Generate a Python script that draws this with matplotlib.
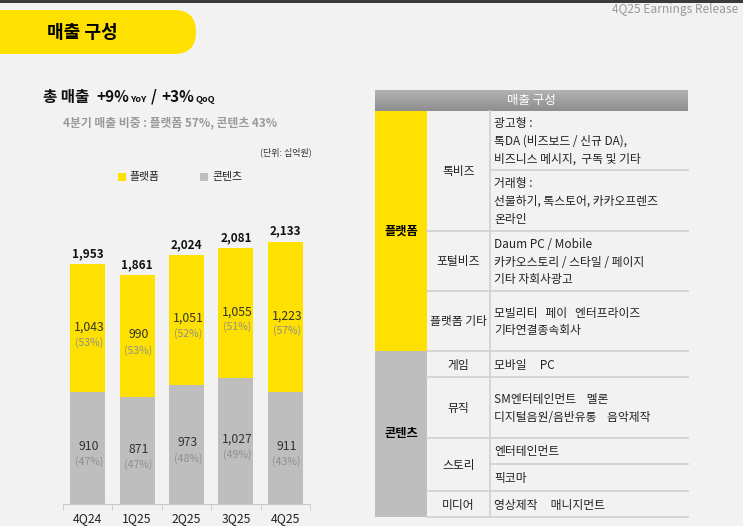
import numpy as np
import matplotlib.pyplot as plt
from matplotlib.patches import Rectangle, FancyBboxPatch
from matplotlib.colors import LinearSegmentedColormap

plt.rcParams['font.family'] = ['Noto Sans CJK KR', 'DejaVu Sans']

# chart data (unit: 십억원)
quarters = ['4Q24', '1Q25', '2Q25', '3Q25', '4Q25']
platform = [1043, 990, 1051, 1055, 1223]
content = [910, 871, 973, 1027, 911]
totals = [1953, 1861, 2024, 2081, 2133]
platform_pct = [53, 53, 52, 51, 57]
content_pct = [47, 47, 48, 49, 43]

# table text
platform_rows = ['톡비즈', '포털비즈', '플랫폼 기타']
content_rows = ['게임', '뮤직', '스토리', '미디어']
row_desc = [
    [['광고형 :', '톡DA (비즈보드 / 신규 DA),', '비즈니스 메시지,  구독 및 기타'],
     ['거래형 :', '선물하기, 톡스토어, 카카오프렌즈', '온라인']],
    [['Daum PC / Mobile', '카카오스토리 / 스타일 / 페이지', '기타 자회사광고']],
    [['모빌리티   페이   엔터프라이즈', '기타연결종속회사']],
    [['모바일     PC']],
    [['SM엔터테인먼트    멜론', '디지털음원/음반유통    음악제작']],
    [['엔터테인먼트'], ['픽코마']],
    [['영상제작     매니지먼트']],
]

YELLOW = '#FEE100'
GRAY = '#BEBEBE'
BG = '#F2F2F2'
LINE = '#D2D2D2'

W, H = 743, 526
fig = plt.figure(figsize=(W / 100, H / 100), dpi=100)
fig.patch.set_facecolor(BG)

# overlay in pixel coords
ov = fig.add_axes([0, 0, 1, 1])
ov.set_xlim(0, W)
ov.set_ylim(H, 0)
ov.axis('off')

ov.add_patch(Rectangle((0, 0), W, 3, color='#3a3a3a', lw=0))
ov.add_patch(FancyBboxPatch((-40, 10), 236, 44, boxstyle='round,pad=0,rounding_size=22',
                            fc=YELLOW, ec='none'))
ov.text(82, 32, '매출 구성', fontsize=13, fontweight='bold', ha='center', va='center')
ov.text(738, 10, '4Q25 Earnings Release', fontsize=8.6, color='#9a9a9a', ha='right', va='center')

# left headline
ov.text(43, 97, '총 매출', fontsize=11.2, fontweight='bold', va='center', color='#111')
ov.text(96, 97, '+9%', fontsize=11, fontweight='bold', va='center', color='#111')
ov.text(130, 99, 'YoY', fontsize=6.6, fontweight='bold', va='center', color='#111')
ov.text(151, 97, '/', fontsize=11, fontweight='bold', va='center', color='#111')
ov.text(161, 97, '+3%', fontsize=11, fontweight='bold', va='center', color='#111')
ov.text(196, 99, 'QoQ', fontsize=6.6, fontweight='bold', va='center', color='#111')
ov.text(63, 123, '4분기 매출 비중 : 플랫폼 57%, 콘텐츠 43%', fontsize=8.5, fontweight='bold',
        color='#9a9a9a', va='center')
ov.text(312, 152, '(단위: 십억원)', fontsize=6.5, color='#333', ha='right', va='center')

ov.add_patch(Rectangle((118, 173), 8, 8, color=YELLOW, lw=0))
ov.text(129, 177, '플랫폼', fontsize=7.8, va='center', color='#222')
ov.add_patch(Rectangle((200, 173), 8, 8, color=GRAY, lw=0))
ov.text(212, 177, '콘텐츠', fontsize=7.8, va='center', color='#222')

# right table
tx0, tx1 = 375, 688
c1, c2 = 427, 490
grad = np.linspace(0, 1, 50).reshape(-1, 1)
ov.imshow(grad, cmap=LinearSegmentedColormap.from_list('g', ['#b2b2b2', '#8e8e8e']),
          extent=(tx0, tx1, 111, 90), aspect='auto', zorder=1)
ov.text((tx0 + tx1) / 2, 100.5, '매출 구성', fontsize=9, color='white', ha='center', va='center', zorder=2)

row_bounds = [111, 231, 291, 351, 377, 438, 491, 517]
sub_splits = {0: [170], 5: [464]}

ov.add_patch(Rectangle((tx0, 111), c1 - tx0, 351 - 111, color=YELLOW, lw=0))
ov.add_patch(Rectangle((tx0, 351), c1 - tx0, 517 - 351, color=GRAY, lw=0))
ov.text((tx0 + c1) / 2, 231, '플랫폼', fontsize=8.8, fontweight='bold', ha='center', va='center')
ov.text((tx0 + c1) / 2, 434, '콘텐츠', fontsize=8.8, fontweight='bold', ha='center', va='center')

for yb in row_bounds[1:]:
    ov.plot([c1, tx1], [yb, yb], color=LINE, lw=1.3)
ov.plot([c2, c2], [111, 517], color=LINE, lw=1.3)

labels = platform_rows + content_rows
for i, lab in enumerate(labels):
    y0, y1 = row_bounds[i], row_bounds[i + 1]
    ov.text((c1 + c2) / 2, (y0 + y1) / 2 + 1, lab, fontsize=8.5, ha='center', va='center', color='#222')
    cuts = [y0] + sub_splits.get(i, []) + [y1]
    for s in sub_splits.get(i, []):
        ov.plot([c2, tx1], [s, s], color=LINE, lw=1.3)
    for k, lines in enumerate(row_desc[i]):
        yc = (cuts[k] + cuts[k + 1]) / 2 + 1
        n = len(lines)
        for j, t in enumerate(lines):
            ov.text(494, yc + (j - (n - 1) / 2) * 17.5, t, fontsize=8.5, va='center', color='#222')

# bar chart
ax = fig.add_axes([63 / W, (H - 504) / H, 247 / W, 284 / H])
ax.set_facecolor('none')
x = np.arange(len(quarters))
ax.bar(x, content, width=0.71, color=GRAY)
ax.bar(x, platform, width=0.71, bottom=content, color=YELLOW)
ax.set_xlim(-0.5, 4.5)
ax.set_ylim(0, 284 / 0.1228)
for s in ['left', 'top', 'right']:
    ax.spines[s].set_visible(False)
ax.spines['bottom'].set_color('#c8c8c8')
ax.set_yticks([])
ax.set_xticks(x, quarters)
ax.set_xticks(np.arange(-0.5, 5, 1), minor=True)
ax.tick_params(axis='x', which='major', length=0, pad=6, labelsize=8.8, labelcolor='#222')
ax.tick_params(axis='x', which='minor', length=4, color='#c8c8c8', direction='out')

for i in x:
    top = content[i] + platform[i]
    ax.annotate(f'{totals[i]:,}', (i, top), xytext=(0, 3), textcoords='offset points',
                ha='center', va='bottom', fontsize=8.5, fontweight='bold', color='#111')
    ym = content[i] + platform[i] / 2
    ax.annotate(f'{platform[i]:,}', (i, ym), xytext=(1, 1), textcoords='offset points',
                ha='center', va='center', fontsize=8.8, color='#333')
    ax.annotate(f'({platform_pct[i]}%)', (i, ym), xytext=(1, -10), textcoords='offset points',
                ha='center', va='center', fontsize=7.6, color='#8f8f8f')
    ym = content[i] / 2
    ax.annotate(f'{content[i]:,}', (i, ym), xytext=(1, 1), textcoords='offset points',
                ha='center', va='center', fontsize=8.8, color='#333')
    ax.annotate(f'({content_pct[i]}%)', (i, ym), xytext=(1, -10), textcoords='offset points',
                ha='center', va='center', fontsize=7.6, color='#8f8f8f')

fig.savefig('out.png', dpi=100, facecolor=BG)
